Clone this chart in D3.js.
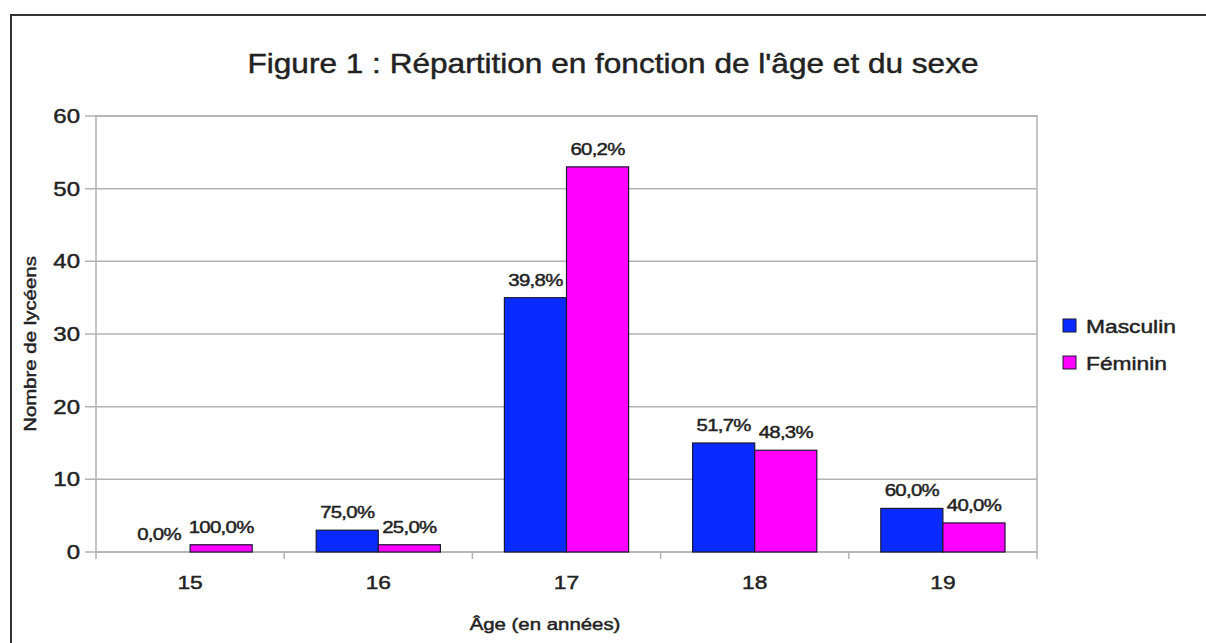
<!DOCTYPE html>
<html>
  <head>
    <meta charset="utf-8">
    <script src="https://d3js.org/d3.v7.min.js"></script>
    <style>
      body { margin: 0; background: #fff; }
      text { font-family: "Liberation Sans", Arial, sans-serif; fill: #222; stroke: #222; stroke-width: 0.45px; }
    </style>
  </head>
  <body>
    <div id="graph"></div>
    <script>

var ages = ["15", "16", "17", "18", "19"];
var series = ["Masculin", "Féminin"];
var masculin = [0, 3, 35, 15, 6];
var feminin = [1, 1, 53, 14, 4];
var masculinLabels = ["0,0%", "75,0%", "39,8%", "51,7%", "60,0%"];
var femininLabels = ["100,0%", "25,0%", "60,2%", "48,3%", "40,0%"];
var yTicks = [0, 10, 20, 30, 40, 50, 60];
var colors = ["#0a2bff", "#ff00ff"];

var w = 1206, h = 643;
var plot = {left: 96, top: 116, right: 1037, bottom: 552};
var sx = 1.2; // text in the original is drawn a bit wide

function place(x, y) {
  return "translate(" + x + "," + y + ") scale(" + sx + ",1)";
}

var svg = d3.select("#graph").append("svg")
  .attr("width", w)
  .attr("height", h);

// outer frame
svg.append("rect")
  .attr("x", 11).attr("y", 15)
  .attr("width", w + 20).attr("height", h + 20)
  .attr("fill", "none")
  .attr("stroke", "#333")
  .attr("stroke-width", 2);

var x0 = d3.scaleBand()
  .domain(ages)
  .range([plot.left, plot.right])
  .paddingInner(0.34)
  .paddingOuter(0.17);

var x1 = d3.scaleBand()
  .domain([0, 1])
  .range([0, x0.bandwidth()]);

var y = d3.scaleLinear()
  .domain([0, 60])
  .range([plot.bottom, plot.top]);

// grid
svg.append("g").selectAll("line")
  .data(yTicks)
  .enter().append("line")
  .attr("x1", plot.left - 11)
  .attr("x2", plot.right)
  .attr("y1", function(d) { return y(d); })
  .attr("y2", function(d) { return y(d); })
  .attr("stroke", "#b3b3b3")
  .attr("stroke-width", 1.5);

// plot border
svg.append("rect")
  .attr("x", plot.left).attr("y", plot.top)
  .attr("width", plot.right - plot.left)
  .attr("height", plot.bottom - plot.top)
  .attr("fill", "none")
  .attr("stroke", "#b3b3b3")
  .attr("stroke-width", 1.5);

// y tick labels
svg.append("g").selectAll("text")
  .data(yTicks)
  .enter().append("text")
  .attr("transform", function(d) { return place(80, y(d) + 7); })
  .attr("text-anchor", "end")
  .attr("font-size", "20px")
  .text(function(d) { return d; });

// x category ticks
var bounds = d3.range(ages.length + 1).map(function(i) {
  return plot.left + i * (plot.right - plot.left) / ages.length;
});
svg.append("g").selectAll("line")
  .data(bounds)
  .enter().append("line")
  .attr("x1", function(d) { return d; })
  .attr("x2", function(d) { return d; })
  .attr("y1", plot.bottom)
  .attr("y2", plot.bottom + 7)
  .attr("stroke", "#b3b3b3")
  .attr("stroke-width", 1.5);

svg.append("g").selectAll("text")
  .data(ages)
  .enter().append("text")
  .attr("transform", function(d) { return place(x0(d) + x0.bandwidth() / 2, 589); })
  .attr("text-anchor", "middle")
  .attr("font-size", "19px")
  .text(function(d) { return d; });

// bars
var values = [masculin, feminin];
var labels = [masculinLabels, femininLabels];
values.forEach(function(vals, s) {
  var g = svg.append("g");
  g.selectAll("rect")
    .data(vals)
    .enter().append("rect")
    .attr("x", function(d, i) { return x0(ages[i]) + x1(s); })
    .attr("y", function(d) { return y(d); })
    .attr("width", x1.bandwidth())
    .attr("height", function(d) { return y(0) - y(d); })
    .attr("fill", colors[s])
    .attr("stroke", "#1a1a33")
    .attr("stroke-width", 1.2);
  g.selectAll("text")
    .data(vals)
    .enter().append("text")
    .attr("transform", function(d, i) {
      return place(x0(ages[i]) + x1(s) + x1.bandwidth() / 2, y(d) - 12);
    })
    .attr("text-anchor", "middle")
    .attr("font-size", "17px")
    .attr("letter-spacing", "-0.6px")
    .text(function(d, i) { return labels[s][i]; });
});

// title
svg.append("text")
  .attr("transform", "translate(613,73) scale(1.17,1)")
  .attr("text-anchor", "middle")
  .attr("font-size", "27px")
  .text("Figure 1 : Répartition en fonction de l'âge et du sexe");

// axis titles
svg.append("text")
  .attr("transform", "translate(36,344) rotate(-90) scale(" + sx + ",1)")
  .attr("text-anchor", "middle")
  .attr("font-size", "17px")
  .text("Nombre de lycéens");

svg.append("text")
  .attr("transform", place(545, 630))
  .attr("text-anchor", "middle")
  .attr("font-size", "17px")
  .text("Âge (en années)");

// legend
var legend = svg.append("g").selectAll("g")
  .data(series)
  .enter().append("g")
  .attr("transform", function(d, i) { return "translate(1063," + (319 + i * 37) + ")"; });
legend.append("rect")
  .attr("width", 13).attr("height", 13)
  .attr("fill", function(d, i) { return colors[i]; })
  .attr("stroke", "#1a1a33");
legend.append("text")
  .attr("transform", place(23, 14))
  .attr("font-size", "19px")
  .text(function(d) { return d; });

    </script>
  </body>
</html>
